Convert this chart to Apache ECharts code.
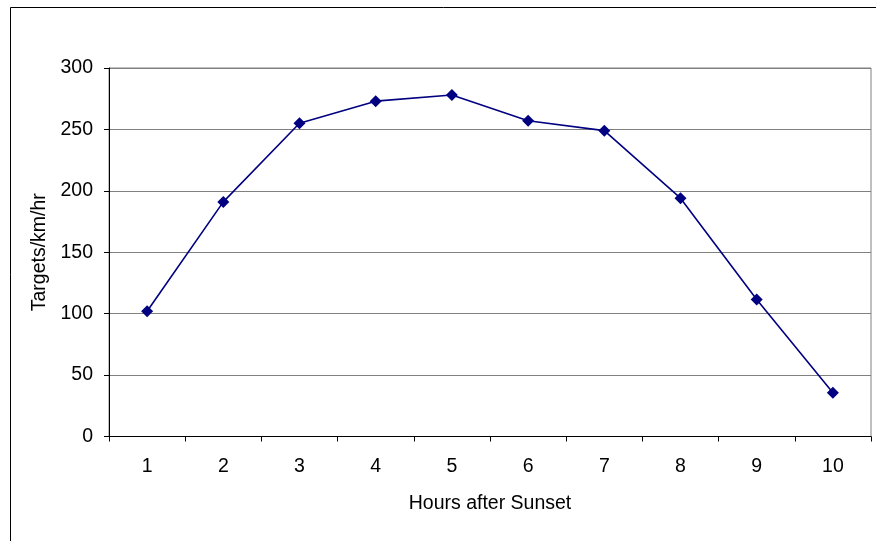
<!DOCTYPE html>
<html>
<head>
<meta charset="utf-8">
<script src="https://cdn.jsdelivr.net/npm/echarts@6/dist/echarts.min.js"></script>
<style>
html,body{margin:0;padding:0;background:#fff;}
#c{width:876px;height:541px;}
</style>
</head>
<body>
<div id="c"></div>
<script>
var categories = ['1','2','3','4','5','6','7','8','9','10'];
var values = [102, 191, 255, 273, 278, 257, 249, 194, 111.5, 35.6];
var yTicks = [0, 50, 100, 150, 200, 250, 300];

var chart = echarts.init(document.getElementById('c'));
var font = 'Liberation Sans, Arial, sans-serif';
chart.setOption({
  animation: false,
  backgroundColor: '#fff',
  graphic: [{
    type: 'rect', z: -1,
    shape: {x: 10.5, y: 7.5, width: 880, height: 545},
    style: {fill: 'none', stroke: '#000', lineWidth: 1}
  }],
  grid: {left: 109, top: 68, right: 5, bottom: 104.5, show: true,
    borderColor: '#808080', borderWidth: 1, backgroundColor: 'transparent'},
  xAxis: {
    type: 'category', data: categories, boundaryGap: true,
    name: 'Hours after Sunset', nameLocation: 'middle', nameGap: 57,
    nameTextStyle: {fontFamily: font, fontSize: 19.5, color: '#000'},
    axisLine: {lineStyle: {color: '#000', width: 1}},
    axisTick: {show: true, alignWithLabel: false, length: 5, lineStyle: {color: '#000'}},
    axisLabel: {fontFamily: font, fontSize: 19.5, color: '#000', margin: 20},
    splitLine: {show: false}
  },
  yAxis: {
    type: 'value', min: yTicks[0], max: yTicks[yTicks.length-1], interval: 50,
    name: 'Targets/km/hr', nameLocation: 'middle', nameGap: 55,
    nameTextStyle: {fontFamily: font, fontSize: 19.5, color: '#000'},
    axisLine: {show: true, lineStyle: {color: '#000', width: 1}},
    axisTick: {show: true, length: 5, lineStyle: {color: '#000'}},
    axisLabel: {fontFamily: font, fontSize: 19.5, color: '#000', margin: 16},
    splitLine: {show: true, lineStyle: {color: '#808080', width: 1}}
  },
  series: [{
    type: 'line', data: values,
    symbol: 'diamond', symbolSize: 12,
    lineStyle: {color: '#000080', width: 1.6},
    itemStyle: {color: '#000080'}
  }]
});
</script>
</body>
</html>
